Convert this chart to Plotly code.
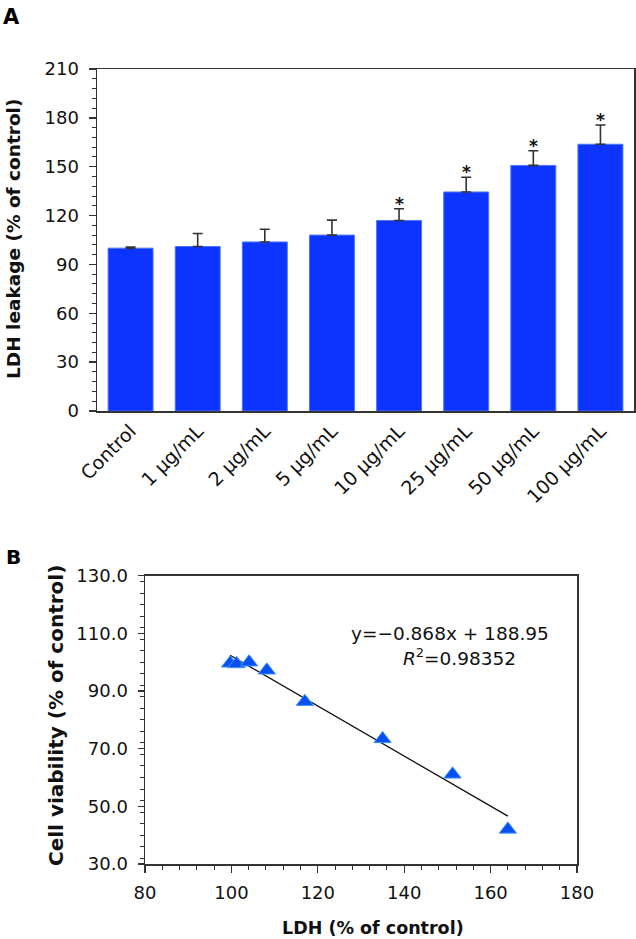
import plotly.graph_objects as go

# ---------------- data ----------------
categories = ["Control", "1 µg/mL", "2 µg/mL", "5 µg/mL", "10 µg/mL",
              "25 µg/mL", "50 µg/mL", "100 µg/mL"]
ldh_mean = [100.0, 101.0, 103.8, 108.0, 117.0, 134.5, 150.8, 163.8]
ldh_err = [0.6, 8.0, 7.8, 9.2, 7.2, 9.0, 9.0, 11.8]
significant = [False, False, False, False, True, True, True, True]

scatter_ldh = [99.7, 101.2, 104.1, 108.2, 117.0, 135.0, 151.2, 164.0]
scatter_viability = [99.6, 99.4, 100.0, 97.2, 86.3, 73.4, 61.1, 42.0]
fit_slope = -0.868
fit_intercept = 188.95
fit_r2 = 0.98352

W, H = 636, 939
FONT = "DejaVu Sans"
AX = "#333333"
BLUE = "#0d33ff"


def px(x):
    return x / W


def py(y):
    return 1 - y / H


fig = go.Figure()

# ---- Panel A: bars ----
fig.add_trace(go.Bar(
    x=categories, y=ldh_mean,
    marker=dict(color=BLUE, line=dict(color="#4a78ff", width=1)),
    error_y=dict(type="data", array=ldh_err, arrayminus=[0] * len(ldh_err),
                 symmetric=False, color=AX, thickness=1.6, width=5),
    xaxis="x", yaxis="y", showlegend=False, hoverinfo="skip",
))

# ---- Panel B: scatter + fit ----
fit_x = [min(scatter_ldh), max(scatter_ldh)]
fit_y = [fit_slope * v + fit_intercept for v in fit_x]
fig.add_trace(go.Scatter(
    x=fit_x, y=fit_y, mode="lines",
    line=dict(color="#111111", width=1.3),
    xaxis="x2", yaxis="y2", showlegend=False, hoverinfo="skip",
))
fig.add_trace(go.Scatter(
    x=scatter_ldh, y=scatter_viability, mode="markers",
    marker=dict(symbol="triangle-up", size=15, color="#0a4ff0",
                line=dict(color="#3a9af5", width=1)),
    xaxis="x2", yaxis="y2", showlegend=False, hoverinfo="skip",
))

tickfont = dict(family=FONT, size=18, color="#111111")

annotations = []
for c, m, e, s in zip(categories, ldh_mean, ldh_err, significant):
    if s:
        annotations.append(dict(
            x=c, y=m + e, xref="x", yref="y", text="<b>*</b>",
            showarrow=False, xanchor="center", yanchor="bottom", yshift=-7,
            font=dict(family=FONT, size=17, color="#111111")))


def note(text, x, y, size, angle=0, xanchor="center", yanchor="middle",
         color="#111"):
    return dict(x=px(x), y=py(y), xref="paper", yref="paper", text=text,
                textangle=angle, showarrow=False, xanchor=xanchor,
                yanchor=yanchor, font=dict(family=FONT, size=size, color=color))


annotations += [
    note("<b>A</b>", 1, 3, 21, xanchor="left", yanchor="top", color="#000"),
    note("<b>B</b>", 4, 543, 20, xanchor="left", yanchor="top", color="#000"),
    note("<b>LDH leakage (% of control)</b>", 14, 239, 18.5, angle=-90),
    note("<b>Cell viability (% of control)</b>", 56, 716, 20, angle=-90),
    note("<b>LDH (% of control)</b>", 373, 928, 17.5),
    note(f"y=\u2212{abs(fit_slope):.3f}x + {fit_intercept:.2f}", 450, 633, 18.5),
    note(f"<i>R</i><sup>2</sup>={fit_r2:.5f}", 459, 657, 18.5),
]

fig.update_layout(
    width=W, height=H,
    margin=dict(l=0, r=0, t=0, b=0, pad=0, autoexpand=False),
    paper_bgcolor="white", plot_bgcolor="white",
    bargap=0.33,
    font=dict(family=FONT, color="#111"),
    xaxis=dict(domain=[px(97), px(634)], anchor="y", automargin=False,
               showline=True, linecolor=AX, linewidth=1.5, mirror=True,
               ticks="", tickangle=-45,
               tickfont=dict(family=FONT, size=19, color="#111"),
               showgrid=False, zeroline=False),
    yaxis=dict(domain=[py(411), py(69)], anchor="x", range=[0, 210], automargin=False,
               dtick=30, tick0=0, showline=True, linecolor=AX, linewidth=1.5,
               mirror=True, ticks="outside", ticklen=7, tickwidth=1.3,
               tickcolor=AX, tickfont=tickfont, ticklabelstandoff=6,
               minor=dict(dtick=6, ticks="outside", ticklen=4, tickwidth=1,
                          tickcolor=AX),
               showgrid=False, zeroline=False),
    xaxis2=dict(domain=[px(145), px(577)], anchor="y2", range=[80, 180], automargin=False,
                dtick=20, tick0=80, showline=True, linecolor=AX, linewidth=1.5,
                mirror=True, ticks="outside", ticklen=7, tickwidth=1.3,
                tickcolor=AX, tickfont=tickfont, ticklabelstandoff=5,
                minor=dict(dtick=4, ticks="outside", ticklen=4, tickwidth=1,
                           tickcolor=AX),
                showgrid=False, zeroline=False),
    yaxis2=dict(domain=[py(864), py(575.7)], anchor="x2", range=[30, 130], automargin=False,
                dtick=20, tick0=30, tickformat=".1f", showline=True,
                linecolor=AX, linewidth=1.5, mirror=True, ticks="outside",
                ticklen=6, tickwidth=1.3, tickcolor=AX, tickfont=tickfont,
                ticklabelstandoff=6,
                minor=dict(dtick=4, ticks="outside", ticklen=4, tickwidth=1,
                           tickcolor=AX),
                showgrid=False, zeroline=False),
    annotations=annotations,
)

fig.write_html(
    "out.html",
    config={"displayModeBar": False, "staticPlot": True},
    post_script="document.body.style.margin='0';"
                "document.documentElement.style.overflow='hidden';",
)
